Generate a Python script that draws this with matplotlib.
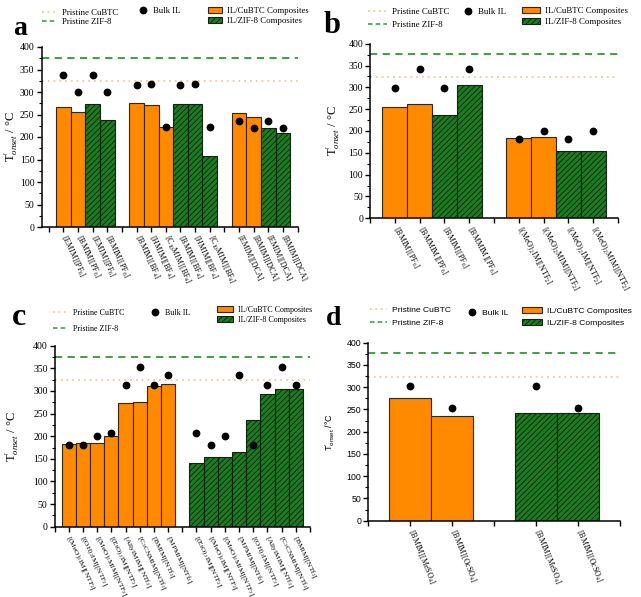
import math
import matplotlib
matplotlib.use('Agg')
import matplotlib.pyplot as plt
from matplotlib.lines import Line2D
from matplotlib.patches import Patch
from matplotlib.ticker import MultipleLocator
from matplotlib.font_manager import FontProperties

plt.rcParams['font.family'] = 'Liberation Serif'
plt.rcParams['mathtext.fontset'] = 'custom'
plt.rcParams['mathtext.rm'] = 'Liberation Serif'
plt.rcParams['mathtext.it'] = 'Liberation Serif:italic'
plt.rcParams['mathtext.bf'] = 'Liberation Serif:bold'
plt.rcParams['mathtext.sf'] = 'Liberation Sans'
plt.rcParams['hatch.linewidth'] = 0.6

W, H = 641, 597

# ---------------- data ----------------
pristine_cubtc = 324
pristine_zif8 = 376

a_labels = ['[EMIM][PF$_6$]', '[BMIM][PF$_6$]', '[EMIM][PF$_6$]', '[BMIM][PF$_6$]',
            '[BMIM][BF$_4$]', '[HMIM][BF$_4$]', '[C$_{10}$MIM][BF$_4$]',
            '[BMIM][BF$_4$]', '[HMIM][BF$_4$]', '[C$_{10}$MIM][BF$_4$]',
            '[EMIM][DCA]', '[BMIM][DCA]', '[EMIM][DCA]', '[BMIM][DCA]']
a_mof = ['CuBTC', 'CuBTC', 'ZIF-8', 'ZIF-8',
         'CuBTC', 'CuBTC', 'CuBTC', 'ZIF-8', 'ZIF-8', 'ZIF-8',
         'CuBTC', 'CuBTC', 'ZIF-8', 'ZIF-8']
a_composite = [266, 256, 273, 237, 276, 271, 223, 274, 273, 158, 253, 245, 220, 210]
a_bulk = [337, 299, 337, 299, 315, 317, 223, 315, 317, 223, 236, 219, 236, 219]
a_groups = [4, 6, 4]

b_labels = ['[BMIM][PF$_6$]', '[BMMIM][PF$_6$]', '[BMIM][PF$_6$]', '[BMMIM][PF$_6$]',
            '[(MeO)$_2$IM][NTF$_2$]', '[(MeO)$_2$MIM][NTF$_2$]',
            '[(MeO)$_2$IM][NTF$_2$]', '[(MeO)$_2$MIM][NTF$_2$]']
b_mof = ['CuBTC', 'CuBTC', 'ZIF-8', 'ZIF-8', 'CuBTC', 'CuBTC', 'ZIF-8', 'ZIF-8']
b_composite = [256, 262, 237, 306, 183, 187, 154, 155]
b_bulk = [299, 343, 299, 343, 181, 201, 181, 201]
b_groups = [4, 4]

c_labels = ['[(MeO)$_2$IM][NTF$_2$]', '[(OH)$_2$IM][NTF$_2$]', '[(MeO)$_2$MIM][NTF$_2$]',
            '[(EtO)$_2$IM][NTF$_2$]', '[AllylMIM][NTf$_2$]', '[C$_3$CNMIM][NTf$_2$]',
            '[BMIM][NTf$_2$]', '[MPMIM][NTf$_2$]',
            '[(EtO)$_2$IM][NTF$_2$]', '[(MeO)$_2$IM][NTF$_2$]', '[(MeO)$_2$MIM][NTF$_2$]',
            '[MPMIM][NTf$_2$]', '[(OH)$_2$IM][NTF$_2$]', '[AllylMIM][NTf$_2$]',
            '[C$_3$CNMIM][NTf$_2$]', '[BMIM][NTf$_2$]']
c_mof = ['CuBTC'] * 8 + ['ZIF-8'] * 8
c_composite = [182, 184, 186, 200, 274, 275, 312, 315,
               141, 153, 154, 165, 235, 293, 304, 305]
c_bulk = [180, 180, 200, 208, 314, 352, 313, 335,
          208, 180, 200, 335, 180, 314, 352, 314]
c_groups = [8, 8]

d_labels = ['[BMIM][MeSO$_4$]', '[BMIM][OcSO$_4$]', '[BMIM][MeSO$_4$]', '[BMIM][OcSO$_4$]']
d_mof = ['CuBTC', 'CuBTC', 'ZIF-8', 'ZIF-8']
d_composite = [275, 236, 242, 243]
d_bulk = [302, 253, 302, 253]
d_groups = [2, 2]

# ---------------- style ----------------
ORANGE = '#ff8a00'
ORANGE_EDGE = '#3a2410'
GREEN = '#1f7a24'
GREEN_EDGE = '#0a260c'
HATCH = '//////'
ZIF_LINE = '#2f9a2f'
CU_LINE = '#f5c796'

fig = plt.figure(figsize=(W / 100, H / 100), dpi=100)

serif = 'Liberation Serif'
sans = 'Liberation Sans'


def px_axes(l, t, r, b):
    return fig.add_axes([l / W, 1 - b / H, (r - l) / W, (b - t) / H])


def draw(ax, labels, mof, comp, bulk, groups, xlim, tickfont, labfs, ylab_off, ylab_fs,
         ylab_sans=False, rot=-65):
    xs = []
    p = 1
    for g in groups:
        xs.extend(range(p, p + g))
        p += g + 1
    for x, v, m in zip(xs, comp, mof):
        if m == 'CuBTC':
            ax.bar(x, v, width=1, color=ORANGE, edgecolor=ORANGE_EDGE, linewidth=0.8, zorder=2)
        else:
            ax.bar(x, v, width=1, color=GREEN, edgecolor=GREEN_EDGE, hatch=HATCH, linewidth=0.8, zorder=2)
    ax.axhline(pristine_zif8, color=ZIF_LINE, ls=(0, (4, 3)), lw=1.3, zorder=1)
    ax.axhline(pristine_cubtc, color=CU_LINE, ls=(0, (1, 2.2)), lw=1.3, zorder=1)
    ax.plot(xs, bulk, 'o', color='black', ms=4.6, zorder=4, clip_on=False)
    ax.set_xlim(*xlim)
    ax.set_ylim(0, 400)
    ticks = list(range(math.ceil(xlim[0]), int(xlim[1]) + 1))
    lab_map = dict(zip(xs, labels))
    ax.set_xticks(ticks)
    ax.set_xticklabels([lab_map.get(t, '') for t in ticks], rotation=rot, ha='left', va='center',
                       rotation_mode='anchor', fontsize=labfs, family=serif)
    ax.yaxis.set_major_locator(MultipleLocator(50))
    ax.yaxis.set_minor_locator(MultipleLocator(25))
    for lb in ax.get_yticklabels():
        lb.set_family(tickfont)
        lb.set_fontsize(7 if tickfont == serif else 6.3)
    ax.tick_params(axis='y', which='major', direction='out', length=3.5, width=1, pad=1.5)
    ax.tick_params(axis='y', which='minor', direction='out', length=2, width=0.8)
    ax.tick_params(axis='x', which='major', direction='out', length=3.5, width=1, pad=3)
    for s in ['top', 'right']:
        ax.spines[s].set_visible(False)
    for s in ['left', 'bottom']:
        ax.spines[s].set_linewidth(1.1)
        ax.spines[s].set_zorder(5)
    if ylab_sans:
        ylab = r'T$^{\prime}_{\mathsf{onset}}$ /°C'
        ax.set_ylabel(ylab, fontsize=ylab_fs, family=sans)
    else:
        ylab = r'T$^{\prime}_{\mathit{onset}}$ / °C'
        ax.set_ylabel(ylab, fontsize=ylab_fs, family=serif)
    ax.yaxis.label.set_va('center')
    ax.yaxis.set_label_coords(ylab_off, 0.5)


def add_leg(handle, label, x, y, fs, family, hl, pad_px=5):
    prop = FontProperties(family=family, size=fs)
    em = fs * 100 / 72
    fig.legend([handle], [label], loc='center left', bbox_to_anchor=(x / W, 1 - y / H),
               frameon=False, borderpad=0, borderaxespad=0, handletextpad=pad_px / em,
               handlelength=hl / em, handleheight=0.7, prop=prop)


def legends(pos, fs, family, line_len, patch_len):
    cu_line = Line2D([], [], color=CU_LINE, ls=(0, (1, 2)), lw=1.3)
    zif_line = Line2D([], [], color=ZIF_LINE, ls=(0, (3, 2)), lw=1.1)
    dot = Line2D([], [], marker='o', ls='none', color='black', ms=4.6)
    cu_patch = Patch(facecolor=ORANGE, edgecolor=ORANGE_EDGE, lw=0.8)
    zif_patch = Patch(facecolor=GREEN, edgecolor=GREEN_EDGE, hatch=HATCH, lw=0.8)
    add_leg(cu_line, 'Pristine CuBTC', pos[0][0], pos[0][1], fs, family, line_len)
    add_leg(zif_line, 'Pristine ZIF-8', pos[1][0], pos[1][1], fs, family, line_len)
    add_leg(dot, 'Bulk IL', pos[2][0] - 4, pos[2][1], fs, family, 8, pad_px=6)
    add_leg(cu_patch, 'IL/CuBTC Composites', pos[3][0], pos[3][1], fs, family, patch_len)
    add_leg(zif_patch, 'IL/ZIF-8 Composites', pos[4][0], pos[4][1], fs, family, patch_len)


# panel a
axa = px_axes(41.5, 47, 297.5, 227)
draw(axa, a_labels, a_mof, a_composite, a_bulk, a_groups, (-0.5, 17), serif, 5.8, -30 / 256, 9)
legends([(42, 13.3), (42, 21.5), (143, 10.5), (208, 11), (208, 20.7)], 6.3, serif, 15, 14)
fig.text(13 / W, 1 - 35 / H, 'a', fontsize=20, fontweight='bold', family=serif, va='baseline')

# panel b
axb = px_axes(370, 43.7, 618, 218.3)
draw(axb, b_labels, b_mof, b_composite, b_bulk, b_groups, (0, 10), serif, 5.8, -37 / 248, 9,
     rot=-62)
legends([(368, 11.7), (368, 25), (468, 11.7), (522, 11), (522, 21.7)], 6.4, serif, 19, 18)
fig.text(324 / W, 1 - 33 / H, 'b', fontsize=22, fontweight='bold', family=serif, va='baseline')

# panel c
axc = px_axes(54.6, 345.7, 310, 526.7)
draw(axc, c_labels, c_mof, c_composite, c_bulk, c_groups, (0, 18), serif, 5.3, -42 / 255, 9)
legends([(53, 313), (53, 329), (155, 312.7), (217, 310), (217, 320)], 5.8, serif, 15, 16)
fig.text(12 / W, 1 - 325 / H, 'c', fontsize=23, fontweight='bold', family=serif, va='baseline')

# panel d
axd = px_axes(368, 342.7, 620, 520.7)
draw(axd, d_labels, d_mof, d_composite, d_bulk, d_groups, (0, 6), sans, 5.8, -38 / 252, 6.5,
     ylab_sans=True, rot=-68)
legends([(370, 310), (370, 323.3), (472, 313), (522, 311), (522, 322.7)], 6.1, sans, 17, 20)
fig.text(326 / W, 1 - 325 / H, 'd', fontsize=20, fontweight='bold', family=serif, va='baseline')

fig.savefig('out.png', dpi=100)
